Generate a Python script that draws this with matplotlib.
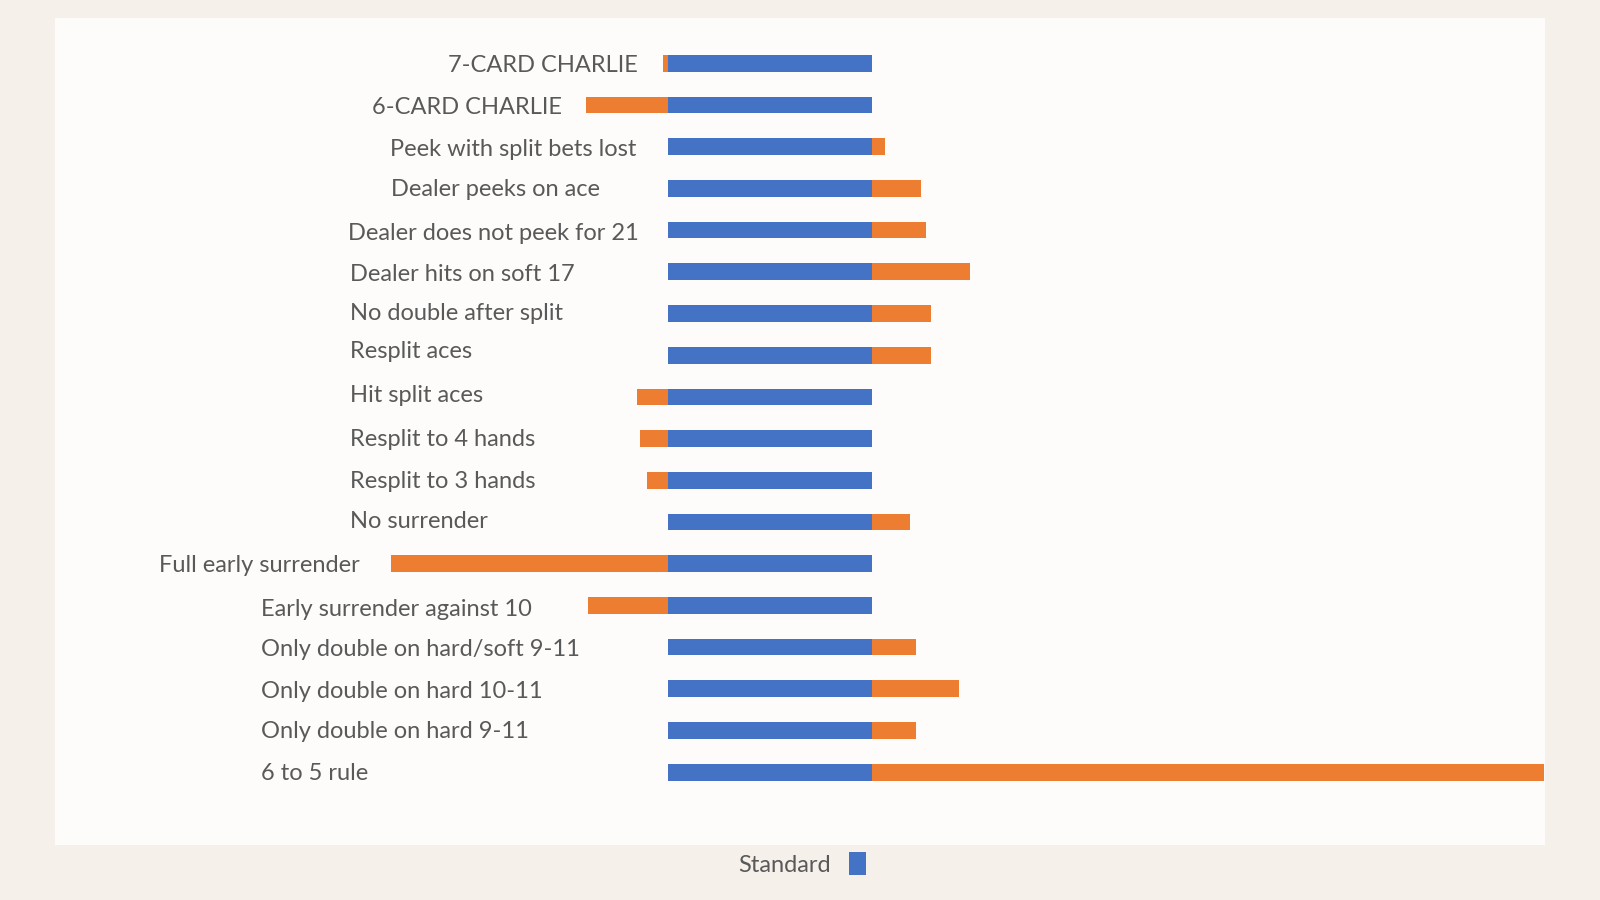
import matplotlib.pyplot as plt
from matplotlib.patches import Rectangle

# house edge in %, standard game vs. effect of each rule change
rules = [
    "7-CARD CHARLIE",
    "6-CARD CHARLIE",
    "Peek with split bets lost",
    "Dealer peeks on ace",
    "Dealer does not peek for 21",
    "Dealer hits on soft 17",
    "No double after split",
    "Resplit aces",
    "Hit split aces",
    "Resplit to 4 hands",
    "Resplit to 3 hands",
    "No surrender",
    "Full early surrender",
    "Early surrender against 10",
    "Only double on hard/soft 9-11",
    "Only double on hard 10-11",
    "Only double on hard 9-11",
    "6 to 5 rule",
]
standard = 0.42
effect = [-0.011, -0.168, 0.027, 0.101, 0.111, 0.202, 0.122, 0.122, -0.063,
          -0.057, -0.044, 0.078, -0.571, -0.164, 0.090, 0.179, 0.090, 1.384]

# label placement (pixels in a 1600x900 canvas), the labels are loose text boxes
# (x, alignment): the two CHARLIE labels hug the bars on their right side
label_x = [638, 562, 390, 391, 348, 350, 350, 350, 350, 350, 350, 350,
           159, 261, 261, 261, 261, 261]
label_ha = ["right", "right"] + ["left"] * 16
label_y = [65, 108, 149, 190, 233, 274, 314, 351, 396, 439, 481, 522,
           566, 609, 650, 692, 732, 773]

W, H = 1600, 900
fig = plt.figure(figsize=(16, 9), dpi=100)
fig.patch.set_facecolor("#f6f0eb")

# white card behind the chart
fig.patches.append(Rectangle((55 / W, 1 - 845 / H), 1490 / W, 827 / H,
                             transform=fig.transFigure, facecolor="#fdfcfb",
                             edgecolor="none", zorder=-5))

ax = fig.add_axes([55 / W, 1 - 845 / H, 1490 / W, 827 / H])
ax.set_facecolor("none")
ax.set_zorder(2)

blue = "#4472c4"
orange = "#ed7d31"
ypos = list(range(len(rules)))

ax.barh(ypos, [standard] * len(rules), left=0, height=0.40, color=blue,
        edgecolor="none", label="Standard")
lefts = [standard if e > 0 else e for e in effect]
ax.barh(ypos, [abs(e) for e in effect], left=lefts, height=0.40, color=orange,
        edgecolor="none")

px_per_unit = 204 / standard
ax.set_xlim((55 - 668) / px_per_unit, (1545 - 668) / px_per_unit)
ax.set_ylim((845 - 63.3) / 41.7, (18 - 63.3) / 41.7)
ax.axis("off")

for name, lx, ha, ly in zip(rules, label_x, label_ha, label_y):
    fig.text(lx / W, 1 - ly / H, name, ha=ha, va="center",
             fontsize=17, family="Lato", color="#595959")

fig.legend(loc="center", bbox_to_anchor=(802 / W, 1 - 864 / H), frameon=False,
           markerfirst=False, handlelength=0.7, handleheight=1.1,
           handletextpad=0.8, prop={"family": "Lato", "size": 17},
           labelcolor="#595959")

fig.savefig("out.png", dpi=100, facecolor=fig.get_facecolor())
